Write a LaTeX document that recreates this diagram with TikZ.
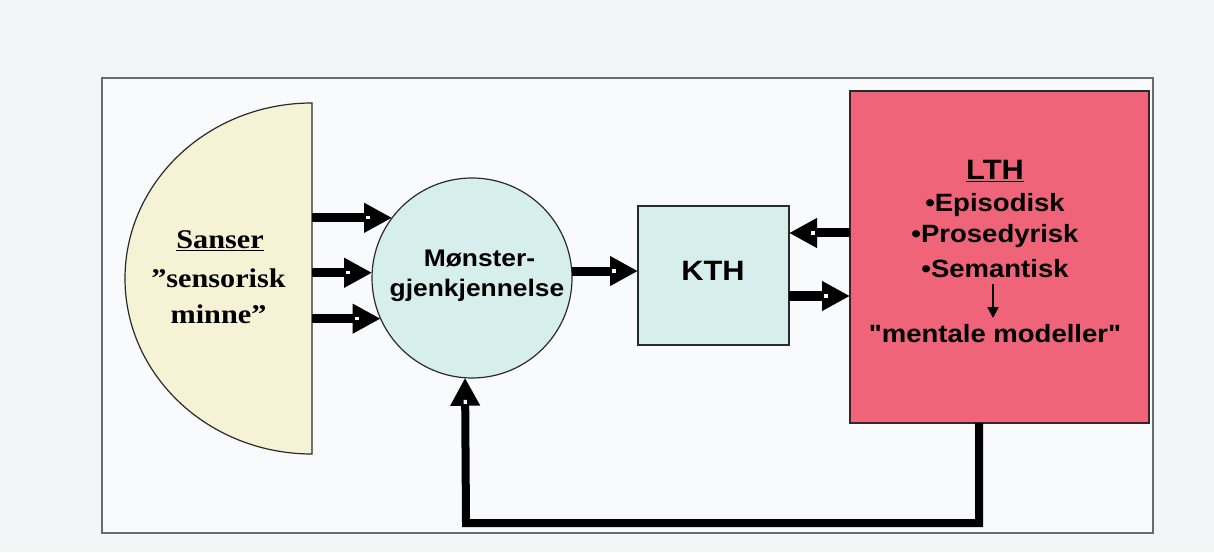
\documentclass[tikz,border=0pt]{standalone}
\usepackage{fontspec}
\setmainfont{Liberation Serif}
\newfontfamily\serifw[FakeStretch=1.12]{Liberation Serif}
\newfontfamily\sansw[FakeStretch=1.1]{Liberation Sans}
\usetikzlibrary{arrows.meta,decorations.markings}
\definecolor{bgc}{HTML}{F4F5F7}
\definecolor{innerbg}{HTML}{F9FAFB}
\definecolor{framec}{HTML}{6A6A6A}
\definecolor{creamfill}{HTML}{F6F2D6}
\definecolor{cyanfill}{HTML}{D6EFED}
\definecolor{lthred}{HTML}{EF6478}
\definecolor{darkline}{HTML}{2A2A2A}
\tikzset{
  fatarrow/.style={line width=9pt, line join=miter, black,
    -{Triangle[length=28pt,width=28pt]},
    postaction={decorate, decoration={markings,
      mark=at position -24pt with {\fill[white] (-2pt,-1.6pt) rectangle (2pt,1.6pt);}}}},
  sanstext/.style={font=\sansw\bfseries\fontsize{25}{30}\selectfont, text=black, anchor=base, inner sep=0},
  seriftext/.style={font=\serifw\bfseries\fontsize{27}{32}\selectfont, text=black, anchor=base, inner sep=0},
  boxshape/.style={rectangle, draw=darkline, line width=1.2pt, inner sep=0, outer sep=0}
}
\begin{document}
\begin{tikzpicture}[x=1pt,y=1pt]
\useasboundingbox (0,0) rectangle (1214,552);
\fill[bgc] (0,0) rectangle (1214,552);
% frame
\filldraw[fill=innerbg, draw=framec, line width=1.5pt] (102,19) rectangle (1153,474);
% half disk
\filldraw[fill=creamfill, draw=darkline, line width=1.2pt]
  (312,449) arc[start angle=90, end angle=270, x radius=187, y radius=175.5] -- cycle;
\coordinate (dk) at (312,273.5);
\node[seriftext] (sanser) at (220,303) {\underline{Sanser}};
\node[seriftext] (sens) at (218.5,265) {”sensorisk};
\node[seriftext] (minne) at (218.5,229) {minne”};
% circle
\node[circle, minimum size=200pt, inner sep=0, outer sep=0, fill=cyanfill, draw=darkline, line width=1.2pt] (c) at (472,274) {};
\node[sanstext, font=\sansw\bfseries\fontsize{24}{28}\selectfont] (mon) at (479.5,285) {Mønster-};
\node[sanstext, font=\sansw\bfseries\fontsize{24}{28}\selectfont] (gjen) at (477,255) {gjenkjennelse};
% KTH box
\node[boxshape, fill=cyanfill, minimum width=151pt, minimum height=139pt] (k) at (713.5,276.5) {};
\node[sanstext, font=\sansw\bfseries\fontsize{28}{32}\selectfont] (ktht) at (713,272) {KTH};
% LTH box
\node[boxshape, fill=lthred, minimum width=299pt, minimum height=332pt] (l) at (999.5,295) {};
\node[sanstext, font=\sansw\bfseries\fontsize{28}{32}\selectfont] (ltht) at (995,372) {\underline{LTH}};
\node[sanstext] (epi) at (995,340) {•Episodisk};
\node[sanstext] (pro) at (995,309) {•Prosedyrisk};
\node[sanstext] (sem) at (995,274) {•Semantisk};
\node[sanstext] (ment) at (995,210) {"mentale modeller"};
\coordinate (la) at (993,268);
\coordinate (lb) at (993,234);
\draw[line width=2.2pt, -{Triangle[length=11pt,width=11pt]}] (la) -- (lb);
% arrows disk -> circle
\draw[fatarrow] (c.143.13 -| dk) -- (c.143.13);
\draw[fatarrow] (c.177.1 -| dk) -- (c.177.1);
\draw[fatarrow] (c.204.8 -| dk) -- (c.204.8);
% circle -> KTH
\draw[fatarrow] (c.4) -- (c.4 -| k.west);
% LTH <-> KTH
\coordinate (ya) at (0,319);
\coordinate (yb) at (0,256);
\draw[fatarrow] (l.west |- ya) -- (k.east |- ya);
\draw[fatarrow] (k.east |- yb) -- (l.west |- yb);
% feedback
\coordinate (fbx) at (979,0);
\coordinate (fbot) at (466,29);
\draw[fatarrow, line width=8pt] (l.south -| fbx) |- (fbot) -- (c.266.6);
\end{tikzpicture}
\end{document}
